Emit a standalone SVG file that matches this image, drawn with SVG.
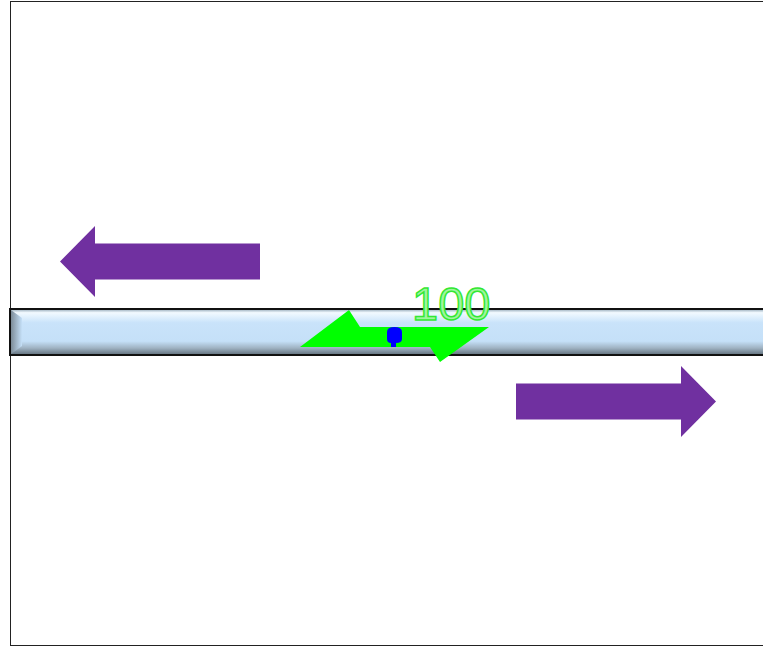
<svg xmlns="http://www.w3.org/2000/svg" width="763" height="647" viewBox="0 0 763 647">
<style>
.arrow{fill:#7030a0}
.label{font-family:"Liberation Sans",Arial,sans-serif;font-size:47px;fill:#9ef59e;stroke:#33e833;stroke-width:1.5}
</style>
<defs>
<linearGradient id="barg" x1="0" y1="0" x2="0" y2="1">
<stop offset="0" stop-color="#8fa4b4"/>
<stop offset="0.08" stop-color="#f2faff"/>
<stop offset="0.3" stop-color="#c9e3fa"/>
<stop offset="0.7" stop-color="#c5e0f8"/>
<stop offset="0.85" stop-color="#9fb2c2"/>
<stop offset="1" stop-color="#5f6e7a"/>
</linearGradient>
<linearGradient id="bevL" x1="0" y1="0" x2="1" y2="0">
<stop offset="0" stop-color="#7d8c98"/>
<stop offset="1" stop-color="#c5e0f8"/>
</linearGradient>
</defs>
<rect x="10.5" y="1.5" width="800" height="644" fill="#fff" stroke="#222" stroke-width="1"/>
<g id="bar">
<rect x="10" y="309" width="760" height="46" fill="url(#barg)" stroke="#111" stroke-width="2"/>
<polygon points="11,310 22,318 22,346 11,354" fill="url(#bevL)"/>
</g>
<g id="arrow-left">
<polygon class="arrow" points="60,261.5 95,226 95,243.5 260,243.5 260,279.5 95,279.5 95,297"/>
</g>
<g id="arrow-right">
<polygon class="arrow" points="716,401.5 681,366 681,383.5 516,383.5 516,419.5 681,419.5 681,437"/>
</g>
<g id="indicator">
<polygon points="300,347 349,310 360,327 489,327 440,362 430,347" fill="#00ff00"/>
<path d="M387,332 Q387,327 394.5,327 Q402,327 402,332 L402,339 Q402,343 396,343 L396,347 L391,347 L391,343 Q387,343 387,339 Z" fill="#0000ff"/>
</g>
<g id="value-label">
<text class="label" x="412" y="320">100</text>
</g>
</svg>
